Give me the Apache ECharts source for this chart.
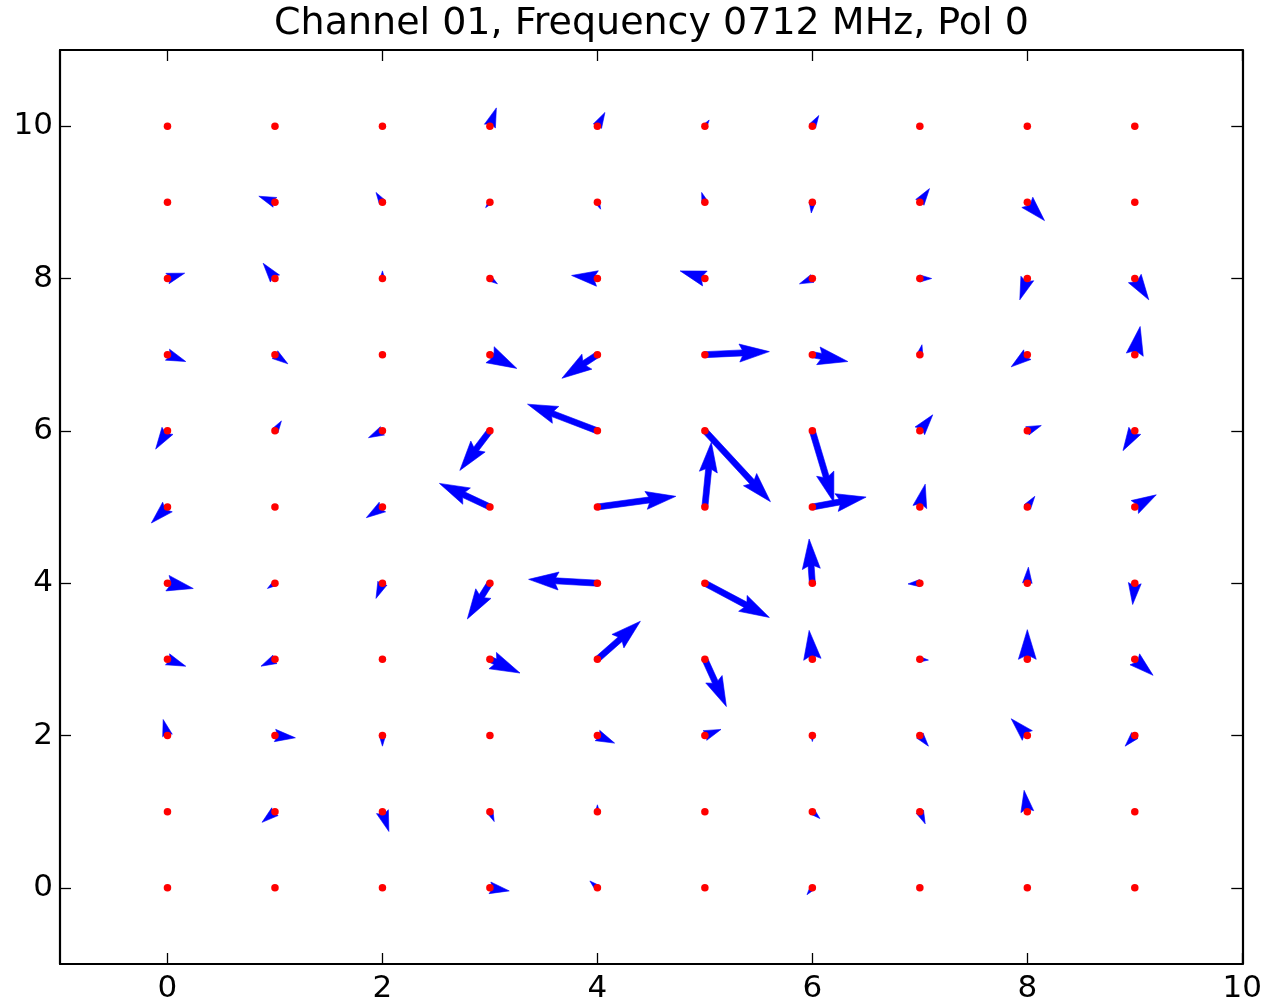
<!DOCTYPE html>
<html><head><meta charset="utf-8">
<script src="https://cdn.jsdelivr.net/npm/echarts@6/dist/echarts.min.js"></script>
<style>html,body{margin:0;padding:0;background:#fff}#c{width:1265px;height:1004px}</style>
</head><body><div id="c"></div>
<script>
const titleText = 'Channel 01, Frequency 0712 MHz, Pol 0';
const gridX = [0, 1, 2, 3, 4, 5, 6, 7, 8, 9];
const gridY = [0, 1, 2, 3, 4, 5, 6, 7, 8, 9, 10];
const xTicks = [0, 2, 4, 6, 8, 10];
const yTicks = [0, 2, 4, 6, 8, 10];
// U[j][i], V[j][i]: arrow tip offset (data units) at point (gridX[i], gridY[j])
const U = [
  [0, 0, 0, 0.18, -0.07, 0, -0.05, 0, 0, 0],
  [0, -0.12, 0.06, 0.04, 0, 0, 0.07, 0.05, -0.03, 0],
  [-0.04, 0.19, 0, 0, 0.16, 0.15, 0, 0.08, -0.15, -0.09],
  [0.17, -0.13, 0, 0.28, 0.40, 0.20, -0.03, 0.08, 0, 0.17],
  [0.24, -0.07, -0.06, -0.21, -0.64, 0.60, -0.03, -0.11, 0.01, -0.02],
  [-0.15, 0, -0.15, -0.47, 0.73, 0.06, 0.50, 0.05, 0.07, 0.20],
  [-0.11, 0.06, -0.13, -0.28, -0.65, 0.61, 0.20, 0.12, 0.13, -0.11],
  [0.17, 0.12, 0, 0.25, -0.33, 0.60, 0.33, 0.02, -0.15, 0.05],
  [0.16, -0.11, 0, 0.07, -0.24, -0.23, -0.12, 0.11, -0.07, 0.13],
  [0, -0.15, -0.06, -0.04, 0.03, -0.03, -0.01, 0.09, 0.16, 0],
  [0, 0, 0, 0.06, 0.07, 0.04, 0.06, 0, 0, 0]
];
const V = [
  [0, 0, 0, -0.04, 0.09, 0, -0.09, 0, 0, 0],
  [0, -0.14, -0.26, -0.13, 0.09, 0, -0.09, -0.16, 0.28, 0],
  [0.21, -0.03, -0.14, 0, -0.10, 0.08, -0.08, -0.14, 0.22, -0.14],
  [-0.09, -0.09, 0, -0.18, 0.50, -0.62, 0.38, -0.01, 0.39, -0.21],
  [-0.07, -0.07, -0.20, -0.47, 0.05, -0.45, 0.58, -0.01, 0.21, -0.28],
  [-0.21, 0, -0.14, 0.31, 0.14, 0.85, 0.13, 0.30, 0.14, 0.16],
  [-0.24, 0.13, -0.09, -0.52, 0.35, -0.93, -0.94, 0.21, 0.07, -0.26],
  [-0.09, -0.12, 0, -0.18, -0.31, 0.04, -0.09, 0.13, -0.16, 0.37],
  [0.07, 0.20, 0.10, -0.07, 0.04, 0.10, -0.07, 0, -0.28, -0.28],
  [0, 0.08, 0.13, -0.07, -0.09, 0.13, -0.14, 0.18, -0.24, 0],
  [0, 0, 0, 0.24, 0.18, 0.08, 0.14, 0, 0, 0]
];

const points = [];
const arrows = [];
gridY.forEach(function (y, j) {
  gridX.forEach(function (x, i) {
    points.push([x, y]);
    arrows.push([x, y, U[j][i], V[j][i]]);
  });
});

const W = 6; // shaft width in px (matplotlib-like quiver shape)
function renderArrow(params, api) {
  const x = api.value(0), y = api.value(1), u = api.value(2), v = api.value(3);
  const p0 = api.coord([x, y]);
  const p1 = api.coord([x + u, y + v]);
  const dx = p1[0] - p0[0], dy = p1[1] - p0[1];
  const L = Math.hypot(dx, dy);
  if (L < 2) return { type: 'group', children: [] };
  const cx = dx / L, cy = dy / L, nx = -cy, ny = cx;
  let along, across;
  const minsh = 5 * W;
  if (L >= minsh) {
    along = [0, L - 4.5 * W, L - 5 * W, L, L - 5 * W, L - 4.5 * W, 0];
    across = [0.5 * W, 0.5 * W, 1.5 * W, 0, -1.5 * W, -0.5 * W, -0.5 * W];
  } else {
    const s = L / minsh;
    along = [0, 0.5 * W, 0, 5 * W, 0, 0.5 * W, 0].map(function (a) { return a * s; });
    across = [0.5 * W, 0.5 * W, 1.5 * W, 0, -1.5 * W, -0.5 * W, -0.5 * W].map(function (a) { return a * s; });
  }
  const pts = along.map(function (a, k) {
    return [p0[0] + a * cx + across[k] * nx, p0[1] + a * cy + across[k] * ny];
  });
  return {
    type: 'polygon',
    shape: { points: pts },
    style: { fill: '#0000ff', stroke: '#0000ff', lineWidth: 0.6 }
  };
}

const font = 'DejaVu Sans';
function xAx(pos, showLabel) {
  return {
    type: 'value', min: -1, max: 10, position: pos,
    axisLine: { show: true, onZero: false, lineStyle: { color: '#000', width: 2.2 } },
    axisTick: { show: true, inside: true, length: 11, customValues: xTicks, lineStyle: { color: '#000', width: 1.3 } },
    axisLabel: { show: showLabel, customValues: xTicks, fontSize: 31, fontFamily: font, color: '#000', margin: 9 },
    splitLine: { show: false }
  };
}
function yAx(pos, showLabel) {
  return {
    type: 'value', min: -1, max: 11, position: pos,
    axisLine: { show: true, onZero: false, lineStyle: { color: '#000', width: 2.2 } },
    axisTick: { show: true, inside: true, length: 11, customValues: yTicks, lineStyle: { color: '#000', width: 1.3 } },
    axisLabel: { show: showLabel, customValues: yTicks, fontSize: 31, fontFamily: font, color: '#000', margin: 7 },
    splitLine: { show: false }
  };
}

const chart = echarts.init(document.getElementById('c'), null, { renderer: 'canvas' });
chart.setOption({
  animation: false,
  backgroundColor: '#ffffff',
  title: {
    text: titleText, left: 651.5, top: 5, textAlign: 'center', padding: 0,
    textStyle: { fontSize: 38, fontWeight: 'normal', fontFamily: font, color: '#000' }
  },
  grid: { left: 60, right: 22, top: 50, bottom: 39 },
  xAxis: [xAx('bottom', true), xAx('top', false)],
  yAxis: [yAx('left', true), yAx('right', false)],
  series: [
    {
      type: 'custom', renderItem: renderArrow, data: arrows,
      encode: { x: 0, y: 1 }, z: 2, silent: true
    },
    {
      type: 'scatter', data: points, symbol: 'circle', symbolSize: 7.5,
      itemStyle: { color: '#ff0000', opacity: 1 }, z: 3, silent: true
    }
  ]
});
</script>
</body></html>
